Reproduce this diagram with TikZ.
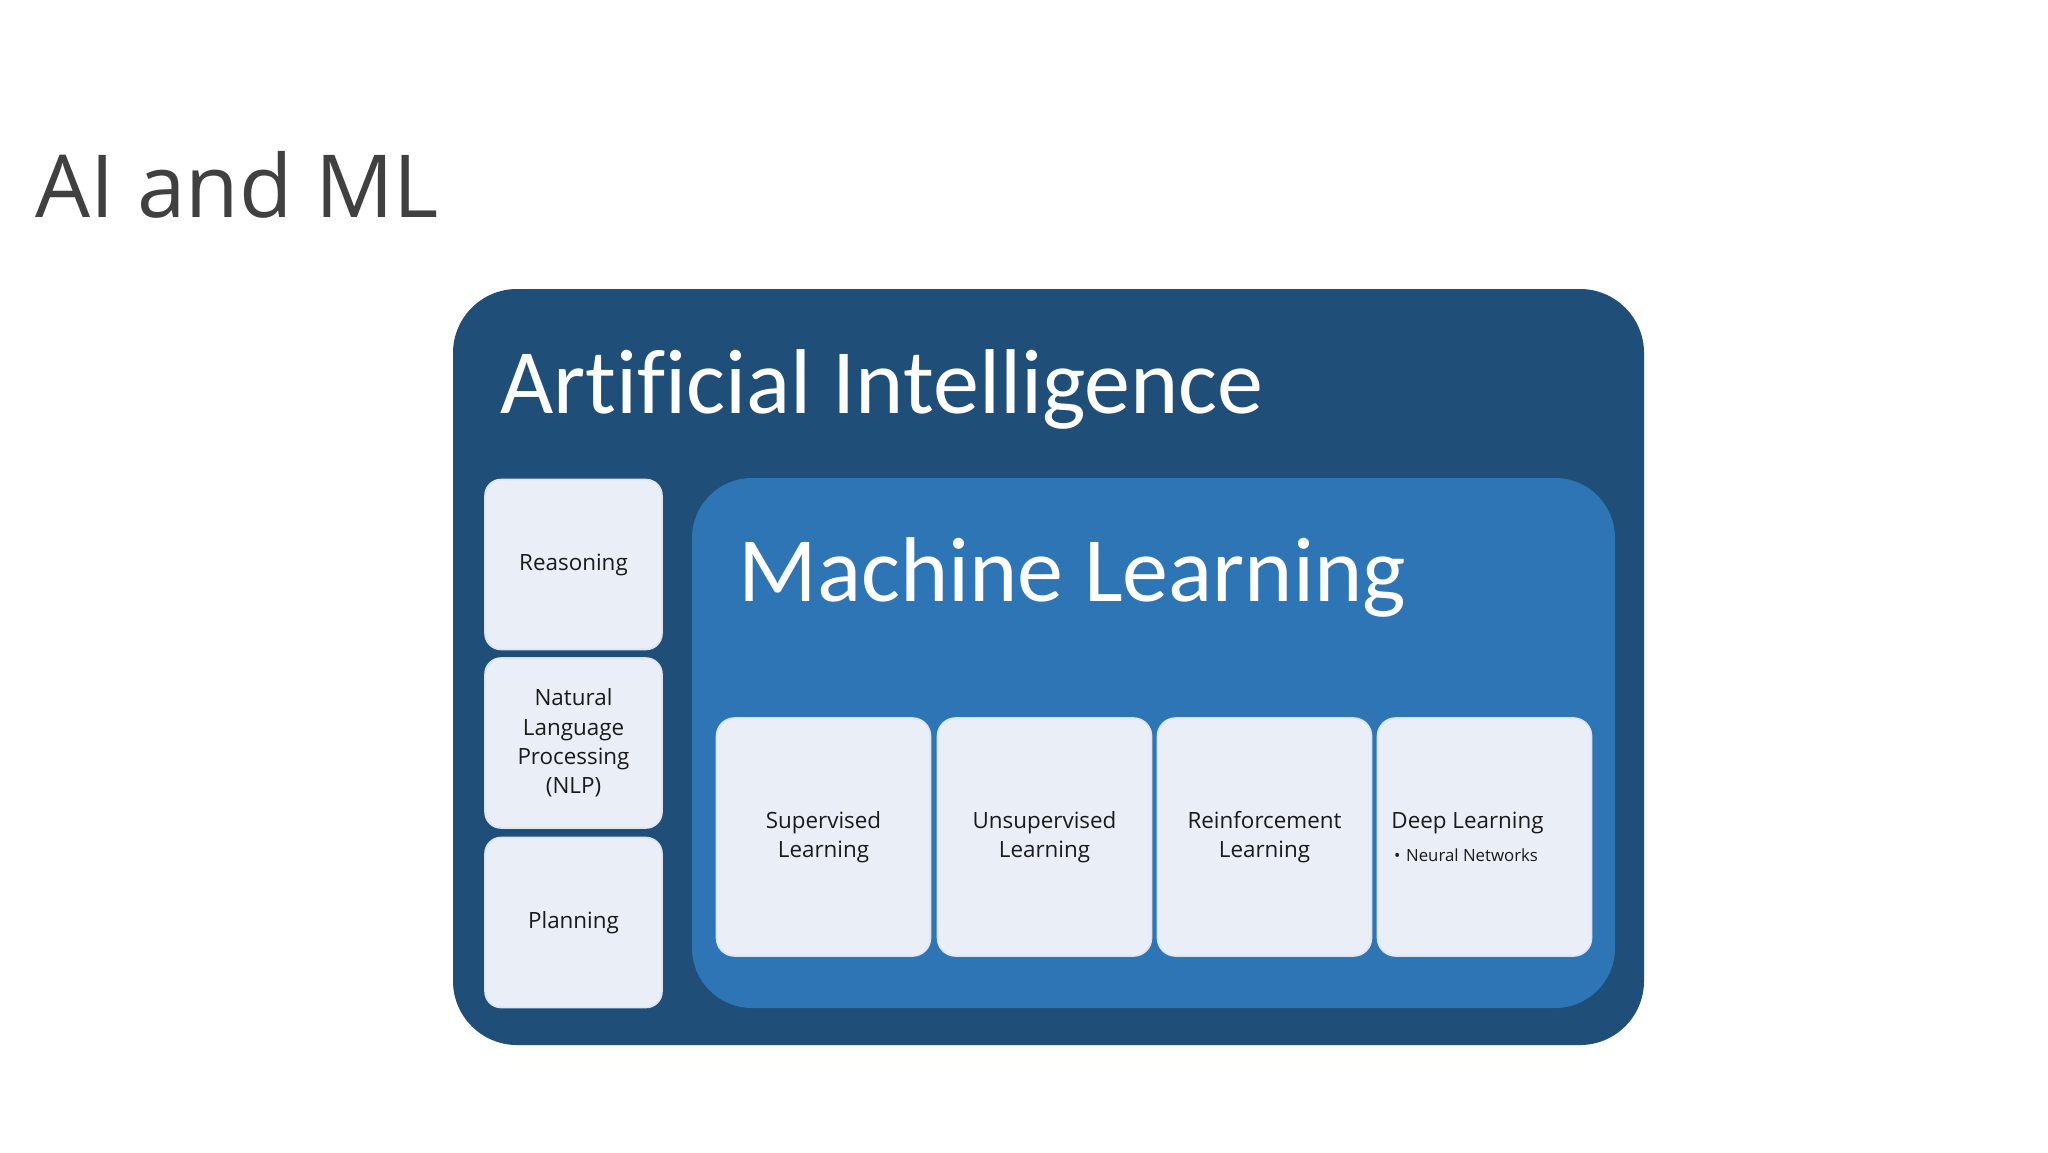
\documentclass[tikz,border=0pt]{standalone}
\usepackage{fontspec}
\setmainfont{Open Sans}
\newfontfamily\calib[Ligatures={NoCommon}]{Carlito}
\definecolor{aiblue}{HTML}{1F4E79}
\definecolor{mlblue}{HTML}{2E75B6}
\definecolor{boxfill}{HTML}{EAEFF7}
\definecolor{boxedge}{HTML}{DCE5F1}
\definecolor{txt}{HTML}{1A1A1A}
\definecolor{titlegray}{HTML}{404040}
\begin{document}
\begin{tikzpicture}[x=0.5pt,y=-0.5pt,
  aibox/.style={fill=aiblue, rounded corners=32pt, minimum width=595.5pt, minimum height=378pt, inner sep=0pt},
  mlbox/.style={fill=mlblue, rounded corners=30pt, minimum width=461.5pt, minimum height=265pt, inner sep=0pt},
  sidebox/.style={fill=boxfill, draw=boxedge, line width=0.8pt, rounded corners=8pt, minimum width=88.5pt, minimum height=85pt, inner sep=0pt},
  subbox/.style={fill=boxfill, draw=boxedge, line width=0.8pt, rounded corners=9pt, minimum width=107pt, minimum height=119pt, inner sep=0pt},
  lbl/.style={text=txt, font=\fontsize{11.2}{14.7}\selectfont, align=center, inner sep=0pt},
  bigtitle/.style={text=white, font=\calib\fontsize{46}{50}\selectfont, inner sep=0pt, anchor=base west}
]
\useasboundingbox[fill=white] (0,0) rectangle (2048,1152);
\node[text=titlegray, font=\fontsize{43.5}{50}\selectfont, anchor=base west, inner sep=0pt] (title) at (35,217) {AI and ML};

\node[aibox] (ai) at (1048.5,667) {};
\node[bigtitle] (aititle) at (500,413) {Artificial Intelligence};

\node[sidebox] (reason) at (573.5,564.5) {};
\node[lbl] (reasont) at (reason.center) {Reasoning};
\node[sidebox] (nlp) at (573.5,743) {};
\node[lbl] (nlpt) at (nlp.center) {Natural\\Language\\Processing\\(NLP)};
\node[sidebox] (plan) at (573.5,922.5) {};
\node[lbl] (plant) at (plan.center) {Planning};

\node[mlbox] (ml) at (1153.5,743) {};
\node[bigtitle] (mltitle) at (738,601) {Machine Learning};

\node[subbox] (sup) at (823.5,837) {};
\node[lbl] (supt) at (sup.center) {Supervised\\Learning};
\node[subbox] (unsup) at (1044.5,837) {};
\node[lbl] (unsupt) at (unsup.center) {Unsupervised\\Learning};
\node[subbox] (reinf) at (1264.5,837) {};
\node[lbl] (reinft) at (reinf.center) {Reinforcement\\Learning};
\node[subbox] (deep) at (1484.5,837) {};
\node[lbl, align=left, anchor=west] (deept) at (1391,837) {Deep Learning\\[2pt]{\fontsize{8.4}{10}\selectfont\,•\,\,Neural Networks}};
\end{tikzpicture}
\end{document}
